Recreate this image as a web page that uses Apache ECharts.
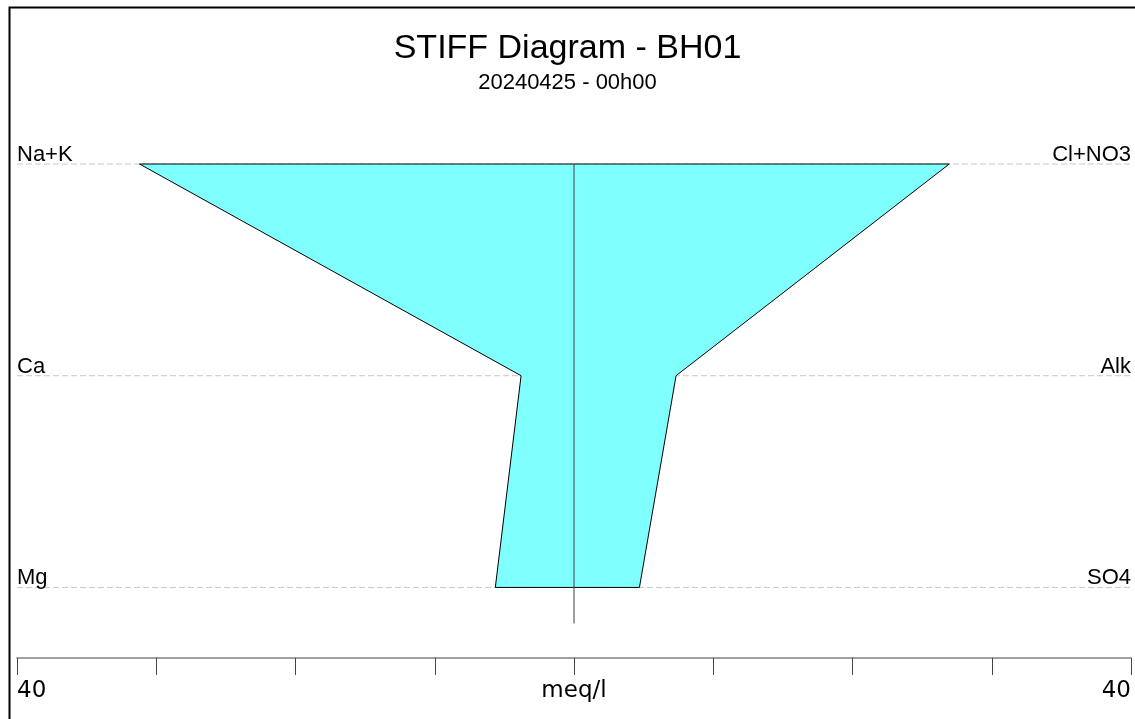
<!DOCTYPE html>
<html>
<head>
<meta charset="utf-8">
<script src="https://cdn.jsdelivr.net/npm/echarts@6/dist/echarts.min.js"></script>
<style>html,body{margin:0;padding:0;background:#fff}#c{width:1135px;height:719px}</style>
</head>
<body>
<div id="c"></div>
<script>
// ---- data ----
const titleText = 'STIFF Diagram - BH01';
const subtitleText = '20240425 - 00h00';
const cationLabels = ['Na+K', 'Ca', 'Mg'];       // left side, top to bottom
const anionLabels = ['Cl+NO3', 'Alk', 'SO4'];    // right side, top to bottom
const cationValues = [31.2, 3.8, 5.65];          // meq/l
const anionValues = [26.95, 7.33, 4.7];          // meq/l
const axisMax = 40;
const axisInterval = 10;
const unitLabel = 'meq/l';

// ---- build ----
const nRows = cationLabels.length;
const rowY = i => nRows - 1 - i;   // top row highest
const centerLineBottom = -0.17;

const chart = echarts.init(document.getElementById('c'), null, {renderer: 'canvas'});

const polygonPoints = [];
cationValues.forEach((v, i) => polygonPoints.push([-v, rowY(i)]));
for (let i = nRows - 1; i >= 0; i--) polygonPoints.push([anionValues[i], rowY(i)]);

const option = {
  animation: false,
  backgroundColor: '#fff',
  title: {
    text: titleText,
    subtext: subtitleText,
    left: 'center',
    top: 27,
    itemGap: 6,
    textStyle: {fontFamily: 'Liberation Sans', fontSize: 34, fontWeight: 'normal', color: '#000'},
    subtextStyle: {fontFamily: 'Liberation Sans', fontSize: 22, color: '#000'}
  },
  graphic: [{
    type: 'rect', left: 7, top: 5, silent: true,
    shape: {width: 1200, height: 800},
    style: {fill: 'none', stroke: '#000', lineWidth: 2}
  }],
  grid: {left: 17, right: 4, top: 164, bottom: 61, containLabel: false},
  xAxis: {
    type: 'value', min: -axisMax, max: axisMax, interval: axisInterval,
    axisLine: {show: true, onZero: false, lineStyle: {color: '#808080', width: 1.5}},
    axisTick: {show: true, inside: false, length: 17, lineStyle: {color: '#444', width: 1}},
    splitLine: {show: false},
    axisLabel: {
      show: true, margin: 22, fontFamily: 'DejaVu Sans', fontSize: 23, color: '#000',
      alignMinLabel: 'left', alignMaxLabel: 'right',
      formatter: v => (v === 0 ? unitLabel : (Math.abs(v) === axisMax ? String(axisMax) : ''))
    }
  },
  yAxis: {
    type: 'value', min: -1/3, max: nRows - 1,
    show: false, splitLine: {show: false}
  },
  series: [
    {
      type: 'custom', z: 1, silent: true,
      data: cationLabels.map((l, i) => [i]),
      renderItem: (params, api) => {
        const i = api.value(0);
        const y = rowY(i);
        const p1 = api.coord([-axisMax, y]);
        const p2 = api.coord([axisMax, y]);
        return {
          type: 'group',
          children: [
            {type: 'line', shape: {x1: p1[0], y1: p1[1], x2: p2[0], y2: p2[1]},
             style: {stroke: '#c8c8c8', lineWidth: 1, lineDash: [6, 3]}},
            {type: 'text', x: p1[0], y: p1[1] + 2,
             style: {text: cationLabels[i], fill: '#000', font: '22px "Liberation Sans"', textAlign: 'left', textVerticalAlign: 'bottom'}},
            {type: 'text', x: p2[0], y: p2[1] + 2,
             style: {text: anionLabels[i], fill: '#000', font: '22px "Liberation Sans"', textAlign: 'right', textVerticalAlign: 'bottom'}}
          ]
        };
      }
    },
    {
      type: 'custom', z: 2, silent: true,
      data: [0],
      renderItem: (params, api) => ({
        type: 'polygon',
        shape: {points: polygonPoints.map(p => api.coord(p))},
        style: {fill: '#80ffff', stroke: '#000', lineWidth: 1}
      })
    },
    {
      type: 'line', z: 3, silent: true, symbol: 'none',
      data: [[0, nRows - 1], [0, centerLineBottom]],
      lineStyle: {color: '#404040', width: 1}
    }
  ]
};
chart.setOption(option);
</script>
</body>
</html>
